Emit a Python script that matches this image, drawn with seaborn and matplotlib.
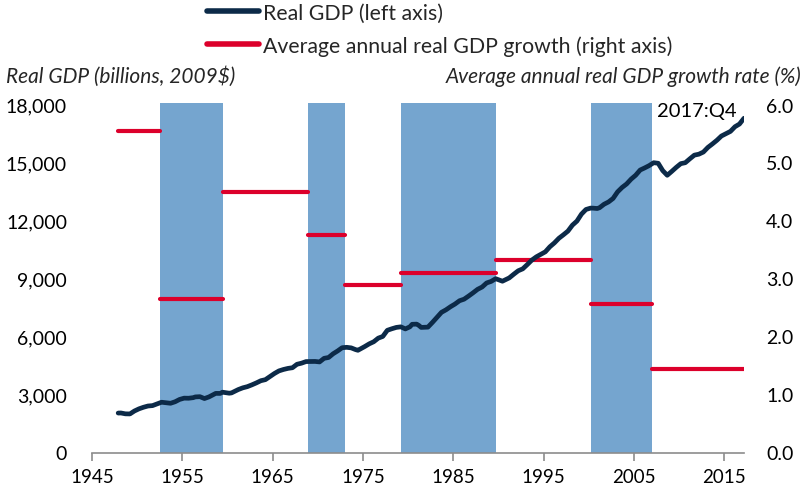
import matplotlib
matplotlib.use("Agg")
import matplotlib.pyplot as plt
import seaborn as sns
import pandas as pd
from matplotlib.lines import Line2D
from matplotlib.ticker import FuncFormatter

# real GDP, billions of 2009$ (position on the chart's time axis, value)
gdp_year = [1947.9, 1948.2, 1948.7, 1949.2, 1949.7, 1950.2, 1950.7, 1951.2, 1951.7, 1952.2,
            1952.7, 1953.2, 1953.7, 1954.2, 1954.7, 1955.2, 1955.7, 1956.2, 1956.45, 1956.95,
            1957.45, 1957.95, 1958.7, 1959.2, 1959.45, 1960.2, 1960.45, 1961.2, 1961.7, 1962.2,
            1962.7, 1963.2, 1963.7, 1964.2, 1964.7, 1965.2, 1965.7, 1966.2, 1966.7, 1967.2,
            1967.7, 1968.2, 1968.7, 1969.2, 1969.7, 1970.2, 1970.7, 1971.2, 1971.7, 1972.2,
            1972.7, 1973.2, 1973.7, 1974.2, 1974.45, 1975.2, 1975.7, 1976.2, 1976.7, 1977.2,
            1977.7, 1978.2, 1978.7, 1979.2, 1979.7, 1980.2, 1980.45, 1980.95, 1981.2, 1981.45,
            1981.95, 1982.2, 1982.7, 1983.2, 1983.7, 1984.2, 1984.7, 1985.2, 1985.7, 1986.2,
            1986.7, 1987.2, 1987.7, 1988.2, 1988.7, 1989.2, 1989.7, 1990.2, 1990.45, 1991.2,
            1991.7, 1992.2, 1992.7, 1993.2, 1993.7, 1994.2, 1994.7, 1995.2, 1995.7, 1996.2,
            1996.7, 1997.2, 1997.7, 1998.2, 1998.7, 1999.2, 1999.7, 2000.2, 2000.45, 2000.95,
            2001.2, 2001.7, 2002.2, 2002.7, 2003.2, 2003.7, 2004.2, 2004.7, 2005.2, 2005.7,
            2006.2, 2006.7, 2007.2, 2007.7, 2008.2, 2008.7, 2009.2, 2009.7, 2010.2, 2010.7,
            2011.2, 2011.7, 2012.2, 2012.7, 2013.2, 2013.7, 2014.2, 2014.7, 2015.2, 2015.7,
            2016.2, 2016.7, 2017.2]
gdp_value = [2040, 2044, 2000, 1995, 2147, 2258, 2340, 2405, 2425, 2514,
             2600, 2574, 2547, 2624, 2744, 2811, 2807, 2836, 2875, 2887,
             2791, 2875, 3058, 3056, 3119, 3067, 3083, 3256, 3345, 3406,
             3498, 3600, 3713, 3768, 3930, 4086, 4220, 4294, 4350, 4385,
             4563, 4620, 4703, 4709, 4710, 4685, 4871, 4915, 5107, 5253,
             5420, 5440, 5412, 5320, 5287, 5480, 5620, 5730, 5915, 6003,
             6320, 6400, 6470, 6500, 6392, 6500, 6631, 6640, 6570, 6470,
             6480, 6485, 6730, 6990, 7250, 7380, 7540, 7680, 7850, 7930,
             8090, 8260, 8440, 8560, 8770, 8850, 8990, 8900, 8860, 9030,
             9220, 9400, 9500, 9720, 9950, 10120, 10250, 10380, 10640, 10840,
             11080, 11260, 11450, 11760, 11970, 12330, 12570, 12640, 12640, 12620,
             12660, 12840, 12960, 13140, 13480, 13710, 13890, 14140, 14340, 14610,
             14720, 14840, 14990, 14960, 14580, 14340, 14540, 14750, 14940, 14990,
             15190, 15380, 15430, 15540, 15780, 15960, 16150, 16370, 16490, 16610,
             16850, 16990, 17290]

# average annual growth (%) between cycle dates
cycle_start = [1947.9, 1952.5, 1959.55, 1968.95, 1973.0, 1979.2, 1989.75, 2000.3, 2007.0]
cycle_end = [1952.5, 1959.55, 1968.95, 1973.0, 1979.2, 1989.75, 2000.3, 2007.0, 2017.2]
avg_growth = [5.55, 2.64, 4.49, 3.75, 2.89, 3.10, 3.32, 2.56, 1.44]

# shaded periods
shade_start = [1952.5, 1968.95, 1979.2, 2000.3]
shade_end = [1959.55, 1973.0, 1989.75, 2007.0]

NAVY = "#0c2a48"
RED = "#dc002b"
BLUE = "#75a5cf"
GREY = "#8c8c8c"

sns.set_theme(style="white")
plt.rcParams["font.family"] = ["Lato", "DejaVu Sans"]

gdp = pd.DataFrame({"year": gdp_year, "gdp": gdp_value})

fig = plt.figure(figsize=(8.08, 4.89), dpi=100)
ax2 = fig.add_axes([92 / 808, 1 - 453.5 / 489, (744 - 92) / 808, 348 / 489])
ax = ax2.twinx()
ax.yaxis.tick_left()
ax2.yaxis.tick_right()

# shading and growth bars on the lower axes, GDP line on top
for s, e in zip(shade_start, shade_end):
    ax2.axvspan(s, e, ymax=1.004, color=BLUE, lw=0, zorder=0, clip_on=False)
ax2.hlines(avg_growth, cycle_start, cycle_end, color=RED, lw=3.0, capstyle="round", zorder=2)

sns.lineplot(data=gdp, x="year", y="gdp", ax=ax, color=NAVY, lw=3.4,
             solid_capstyle="round", zorder=3)

ax2.set_xlim(1945, 2017.2)
ax.set_xlim(1945, 2017.2)
ax.set_ylim(0, 18000)
ax2.set_ylim(0, 6)
ax2.set_xticks(range(1945, 2016, 10))
ax.set_yticks(range(0, 18001, 3000))
ax2.set_yticks(range(0, 7))
ax.yaxis.set_major_formatter(FuncFormatter(lambda v, p: f"{int(v):,}"))
ax2.yaxis.set_major_formatter(FuncFormatter(lambda v, p: f"{v:.1f}"))
ax.set_xlabel("")
ax.set_ylabel("")

for a in (ax, ax2):
    for side in ("top", "left", "right", "bottom"):
        a.spines[side].set_visible(False)
ax2.spines["bottom"].set_visible(True)
ax2.spines["bottom"].set_color(GREY)
ax2.spines["bottom"].set_linewidth(1.2)

ax2.tick_params(axis="x", direction="out", length=6, width=1.2, color=GREY,
                labelsize=13.5, labelcolor="black", pad=5, bottom=True)
ax.tick_params(axis="x", bottom=False, labelbottom=False)
ax.tick_params(axis="y", length=0, labelsize=14, labelcolor="black", pad=18)
ax2.tick_params(axis="y", length=0, labelsize=14, labelcolor="black", pad=16)

ax.text(2016.4, 17700, "2017:Q4", ha="right", va="center", fontsize=14.5, color="black")

fig.text(6 / 808, 1 - 77 / 489, "Real GDP (billions, 2009$)", style="italic",
         fontsize=15, ha="left", va="center")
fig.text(801 / 808, 1 - 77 / 489, "Average annual real GDP growth rate (%)", style="italic",
         fontsize=15, ha="right", va="center")

handles = [Line2D([], [], color=NAVY, lw=4, solid_capstyle="round"),
           Line2D([], [], color=RED, lw=4, solid_capstyle="round")]
labels = ["Real GDP (left axis)", "Average annual real GDP growth (right axis)"]
fig.legend(handles, labels, loc="upper left", bbox_to_anchor=(198 / 808, 1.01),
           frameon=False, fontsize=15.3, handlelength=2.45, handletextpad=0.2,
           labelspacing=0.58, borderaxespad=0.0)

fig.savefig("out.png", dpi=100)
